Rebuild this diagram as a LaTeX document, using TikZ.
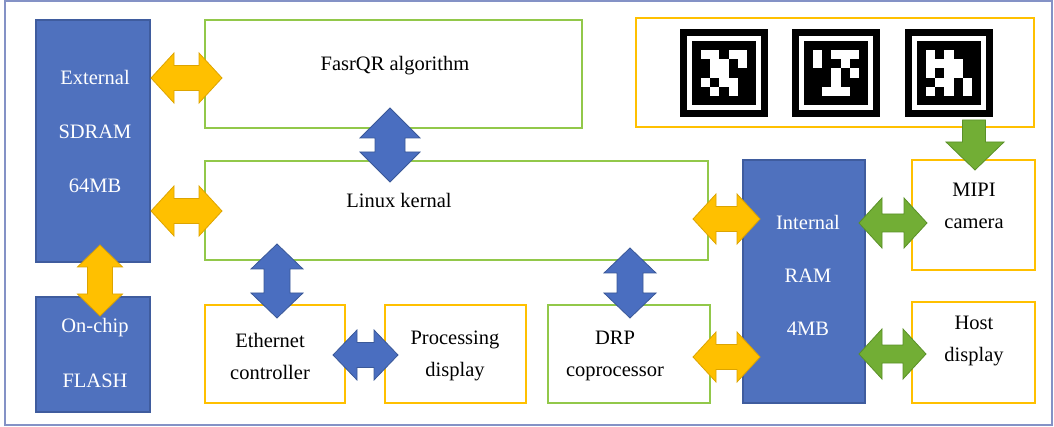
\documentclass[tikz,border=0pt]{standalone}
\usepackage{fontspec}
\setmainfont{Liberation Serif}
\definecolor{boxblue}{HTML}{4F71BE}
\definecolor{boxblueline}{HTML}{3F5C9E}
\definecolor{ylw}{HTML}{FFC000}
\definecolor{ylwline}{HTML}{DDA400}
\definecolor{grn}{HTML}{92C84A}
\definecolor{grnfill}{HTML}{72AE35}
\definecolor{grnline}{HTML}{5A9028}
\definecolor{arrblue}{HTML}{4A6EC0}
\definecolor{arrblueline}{HTML}{3A5898}
\definecolor{framec}{HTML}{8492C6}
% #1 x1, #2 x2, #3 y, #4 head length, #5 head half width, #6 shaft half width, #7 style
\newcommand{\harrow}[7]{%
  \draw[#7] (#1,#3) -- ({#1+#4},{#3-#5}) -- ({#1+#4},{#3-#6}) -- ({#2-#4},{#3-#6})
    -- ({#2-#4},{#3-#5}) -- (#2,#3) -- ({#2-#4},{#3+#5}) -- ({#2-#4},{#3+#6})
    -- ({#1+#4},{#3+#6}) -- ({#1+#4},{#3+#5}) -- cycle;}
% #1 y1, #2 y2, #3 x, #4 head length, #5 head half width, #6 shaft half width, #7 style
\newcommand{\varrow}[7]{%
  \draw[#7] (#3,#1) -- ({#3-#5},{#1+#4}) -- ({#3-#6},{#1+#4}) -- ({#3-#6},{#2-#4})
    -- ({#3-#5},{#2-#4}) -- (#3,#2) -- ({#3+#5},{#2-#4}) -- ({#3+#6},{#2-#4})
    -- ({#3+#6},{#1+#4}) -- ({#3+#5},{#1+#4}) -- cycle;}
\newcommand{\arucomarker}[3]{%
  \fill[black] (#1,#2) rectangle ++(88,88);
  \fill[white] ({#1+7},{#2+7}) rectangle ({#1+81},{#2+81});
  \fill[black] ({#1+12},{#2+12}) rectangle ({#1+76},{#2+76});
  \foreach \c/\r in {#3} \fill[white] ({#1+12+(\c+1)*9.14},{#2+12+(\r+1)*9.14}) rectangle ++(9.14,9.14);}
\tikzset{
  bluebox/.style={draw=boxblueline, line width=1.2, fill=boxblue, inner sep=0},
  ybox/.style={draw=ylw, line width=2, inner sep=0},
  gbox/.style={draw=grn, line width=1.6, inner sep=0},
  lbl/.style={align=center, font=\fontsize{20.5}{32}\selectfont},
  wlbl/.style={lbl, text=white},
  yarr/.style={fill=ylw, draw=ylwline, line width=0.8, line join=miter},
  barr/.style={fill=arrblue, draw=arrblueline, line width=0.8, line join=miter},
  garr/.style={fill=grnfill, draw=grnline, line width=0.8, line join=miter},
}
\begin{document}
\begin{tikzpicture}[x=1pt,y=-1pt]
\useasboundingbox (0,0) rectangle (1054,427);
\draw[framec, line width=2] (5,1) rectangle (1052,425);
% boxes
\node[bluebox, minimum width=114, minimum height=242] (sdram) at (93,141) {};
\node[bluebox, minimum width=114, minimum height=115] (flash) at (93,354.5) {};
\node[gbox, minimum width=377, minimum height=108] (fasrqr) at (393.5,74) {};
\node[gbox, minimum width=503, minimum height=99] (linux) at (456.5,210.5) {};
\node[ybox, minimum width=140, minimum height=98] (eth) at (275,354) {};
\node[ybox, minimum width=141, minimum height=98] (proc) at (455.5,354) {};
\node[gbox, minimum width=162, minimum height=98] (drp) at (629,354) {};
\node[bluebox, minimum width=122, minimum height=243] (ram) at (804,281.5) {};
\node[ybox, minimum width=123, minimum height=110] (mipi) at (973.5,215) {};
\node[ybox, minimum width=123, minimum height=101] (host) at (973.5,352.5) {};
\node[ybox, minimum width=398, minimum height=109] (markers) at (835,72.5) {};
% markers
\arucomarker{680}{29}{0/0,1/0,3/0,4/0,1/1,2/1,4/1,1/2,2/2,0/3,2/3,3/3,1/4,3/4}
\arucomarker{792}{29}{0/0,2/0,3/0,4/0,0/1,3/1,2/2,4/2,2/3,1/4,2/4,3/4}
\arucomarker{905}{29}{0/0,2/0,0/1,1/1,2/1,3/1,0/2,2/2,3/2,1/3,2/3,4/3,0/4,2/4,4/4}
% arrows
\harrow{151}{222}{78}{23}{25}{12.5}{yarr}
\harrow{151}{222}{211}{23}{25}{12.5}{yarr}
\varrow{245}{316}{100}{22}{22.5}{12.5}{yarr}
\harrow{693}{760}{219}{23}{25}{12.5}{yarr}
\harrow{693}{760}{357}{23}{25}{12.5}{yarr}
\varrow{108}{182}{390}{30}{30}{15}{barr}
\varrow{244}{318}{277}{25}{26}{13}{barr}
\varrow{248}{318}{630}{25}{26}{13}{barr}
\harrow{333}{398}{355}{24}{25}{12.5}{barr}
\harrow{859}{927}{223}{23}{25}{9}{garr}
\harrow{859}{926}{354}{23}{25}{9}{garr}
\draw[garr] (962.5,120) -- (985.5,120) -- (985.5,142) -- (1004,142) -- (975,170) -- (946,142) -- (962.5,142) -- cycle;
% labels
\node[wlbl, font=\fontsize{20.5}{54}\selectfont] (sdramt) at (95,131) {External\\SDRAM\\64MB};
\node[wlbl, font=\fontsize{20.5}{55}\selectfont] (flasht) at (95,352.5) {On-chip\\FLASH};
\node[lbl] (fasrqrt) at (395,66) {FasrQR algorithm};
\node[lbl] (linuxt) at (399,200) {Linux kernal};
\node[lbl] (etht) at (270,356) {Ethernet\\controller};
\node[lbl] (proct) at (455,356) {Processing\\display};
\node[lbl] (drpt) at (615,356) {DRP\\coprocessor};
\node[wlbl, font=\fontsize{20.5}{53}\selectfont] (ramt) at (808,275) {Internal\\RAM\\4MB};
\node[lbl] (mipit) at (974,206) {MIPI\\camera};
\node[lbl] (hostt) at (974,341) {Host\\display};
\end{tikzpicture}
\end{document}
